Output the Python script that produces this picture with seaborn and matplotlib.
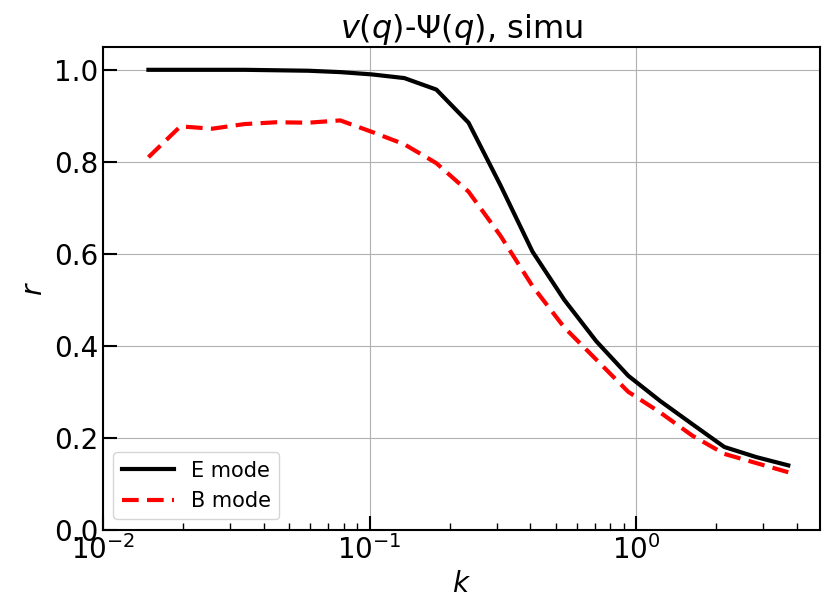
import matplotlib
matplotlib.use("Agg")
import matplotlib.pyplot as plt
import seaborn as sns
import pandas as pd

k = [0.0148, 0.0195, 0.0257, 0.0339, 0.0447, 0.0589, 0.0776, 0.102, 0.135, 0.178,
     0.235, 0.309, 0.408, 0.537, 0.708, 0.933, 1.23, 1.62, 2.14, 2.82, 3.72]
r_E = [1.0, 1.0, 1.0, 1.0, 0.999, 0.998, 0.995, 0.99, 0.982, 0.957, 0.885, 0.75,
       0.605, 0.50, 0.41, 0.335, 0.28, 0.23, 0.18, 0.158, 0.14]
r_B = [0.81, 0.877, 0.872, 0.882, 0.886, 0.885, 0.89, 0.865, 0.838, 0.797, 0.735,
       0.64, 0.53, 0.44, 0.37, 0.30, 0.255, 0.205, 0.165, 0.145, 0.125]

df = pd.DataFrame({"k": k * 2, "r": r_E + r_B,
                   "mode": ["E mode"] * len(k) + ["B mode"] * len(k)})

fig, ax = plt.subplots(figsize=(8.31, 6.16), dpi=100)
sns.lineplot(data=df, x="k", y="r", hue="mode", style="mode",
             palette={"E mode": "black", "B mode": "red"},
             dashes={"E mode": "", "B mode": (4, 2)}, linewidth=3, ax=ax)
ax.set_xscale("log")
ax.set_xlim(1e-2, 4.9)
ax.set_ylim(0, 1.05)
ax.grid(True, color="#b0b0b0", linewidth=0.8)
ax.tick_params(which="major", direction="in", length=10, width=1.5, labelsize=20)
ax.tick_params(which="minor", direction="in", length=5, width=1)
for s in ax.spines.values():
    s.set_linewidth(1.5)
ax.set_xlabel("$k$", fontsize=20)
ax.set_ylabel("$r$", fontsize=20)
ax.set_title(r"$v(q)$-$\Psi(q)$, simu", fontsize=23)
ax.legend(loc="lower left", fontsize=15, handlelength=2.5)
fig.subplots_adjust(left=0.124, right=0.987, top=0.924, bottom=0.14)
fig.savefig("out.png", dpi=100)
